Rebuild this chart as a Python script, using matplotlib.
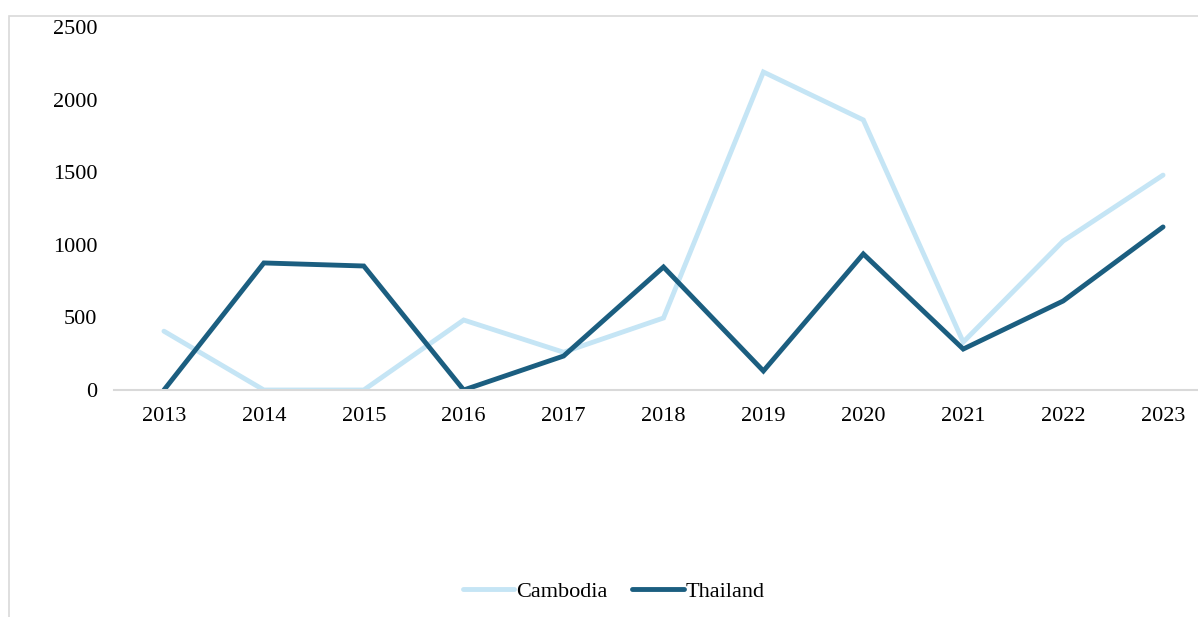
import matplotlib
matplotlib.use("Agg")
import matplotlib.pyplot as plt
from matplotlib.patches import Rectangle

years = ["2013", "2014", "2015", "2016", "2017", "2018", "2019", "2020", "2021", "2022", "2023"]
cambodia = [405, 0, 0, 482, 260, 496, 2190, 1860, 330, 1026, 1480]
thailand = [0, 875, 854, 0, 234, 847, 131, 937, 282, 613, 1123]

plt.rcParams['font.family'] = ['Liberation Serif', 'DejaVu Serif']

W, H = 1198, 617
fig = plt.figure(figsize=(W / 100, H / 100), dpi=100)

# outer chart border (partially visible)
fig.patches.append(Rectangle((9 / W, -0.1), 1.2, 1 - 16 / H + 0.1, transform=fig.transFigure,
                             fill=False, edgecolor='#D9D9D9', linewidth=1.2))

left, right = 114 / W, 1213 / W
bottom, top = 1 - 390 / H, 1 - 27 / H
ax = fig.add_axes([left, bottom, right - left, top - bottom])

x = list(range(len(years)))
ax.plot(x, cambodia, color='#C5E5F5', linewidth=3.5, label='Cambodia', solid_capstyle='round',
        solid_joinstyle='miter')
ax.plot(x, thailand, color='#1B5E80', linewidth=3.5, label='Thailand', solid_capstyle='round',
        solid_joinstyle='miter')

ax.set_xlim(-0.5, len(years) - 0.5)
ax.set_ylim(0, 2500)
ax.set_yticks([0, 500, 1000, 1500, 2000, 2500])
ax.set_xticks(x)
ax.set_xticklabels(years)
ax.tick_params(axis='both', length=0, labelsize=16, colors='#000000')
ax.tick_params(axis='y', pad=12)
ax.tick_params(axis='x', pad=12)
for s in ['top', 'right', 'left']:
    ax.spines[s].set_visible(False)
ax.spines['bottom'].set_color('#D9D9D9')
ax.spines['bottom'].set_linewidth(1.5)
ax.patch.set_visible(False)

fig.legend(loc='center', bbox_to_anchor=(614 / W, 1 - 592 / H), ncol=2, frameon=False,
           fontsize=16, handlelength=2.3, handletextpad=0.1, columnspacing=1.1)

fig.savefig('out.png', dpi=100)
